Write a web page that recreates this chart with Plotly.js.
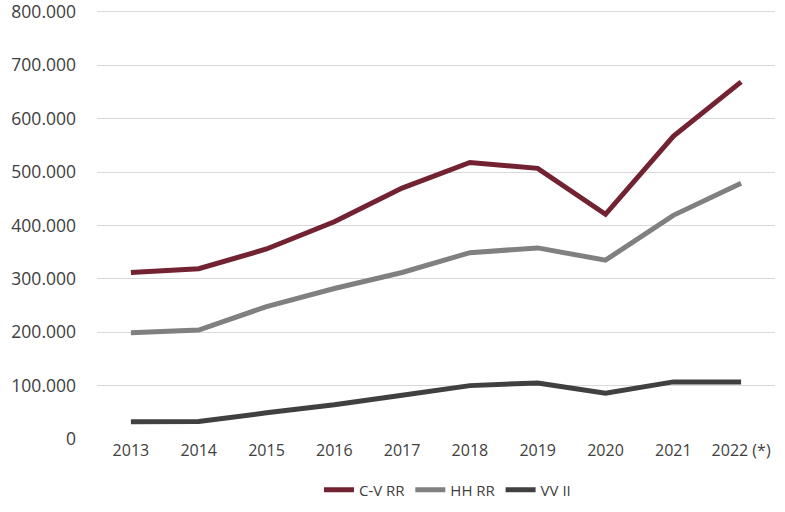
<!DOCTYPE html>
<html>
<head>
<meta charset="utf-8">
<script src="https://cdn.plot.ly/plotly-3.0.1.min.js"></script>
<style>html,body{margin:0;padding:0;background:#fff;}#chart{width:785px;height:512px;}</style>
</head>
<body>
<div id="chart"></div>
<script>
const years = ['2013','2014','2015','2016','2017','2018','2019','2020','2021','2022 (*)'];
const cvRR = [312000, 319000, 356000, 407000, 470000, 518000, 507000, 421000, 567000, 669000];
const hhRR = [199000, 204000, 248000, 282000, 312000, 349000, 358000, 335000, 419000, 479000];
const vvII = [32500, 33000, 49000, 64000, 82000, 100000, 105000, 86000, 107000, 107000];
const yTicks = [0, 100000, 200000, 300000, 400000, 500000, 600000, 700000, 800000];
const seriesNames = ['C-V RR', 'HH RR', 'VV II'];
const seriesColors = ['#722231', '#808080', '#404040'];
const seriesData = [cvRR, hhRR, vvII];

const traces = seriesData.map((d, i) => ({
  type: 'scatter', mode: 'lines', x: years, y: d, name: seriesNames[i],
  line: {color: seriesColors[i], width: 5, shape: 'linear'}
}));

const layout = {
  width: 785, height: 512,
  margin: {l: 97, r: 10, t: 6, b: 73, autoexpand: false},
  paper_bgcolor: '#fff', plot_bgcolor: '#fff',
  separators: ',.',
  font: {family: 'Open Sans, Liberation Sans, sans-serif', color: '#404040'},
  showlegend: true,
  legend: {orientation: 'h', x: 0.57, xanchor: 'center', xref: 'container',
           y: 0.043, yanchor: 'middle', yref: 'container',
           font: {size: 15, color: '#404040'}, itemwidth: 30, tracegroupgap: 0},
  xaxis: {type: 'category', range: [-0.5, 9.5], showgrid: false, zeroline: false,
          showline: false, ticks: '', tickfont: {size: 16, color: '#404040'}, fixedrange: true,
          automargin: false},
  yaxis: {range: [0, 811200], tickvals: yTicks, ticklabeloverflow: 'allow',
          tickformat: ',d', showgrid: true,
          gridcolor: '#d9d9d9', gridwidth: 1, zeroline: false, showline: false, ticks: '',
          ticklabelstandoff: 20, tickfont: {size: 17.5, color: '#404040'}, fixedrange: true,
          automargin: false}
};

Plotly.newPlot('chart', traces, layout, {displayModeBar: false, staticPlot: true});
</script>
</body>
</html>
